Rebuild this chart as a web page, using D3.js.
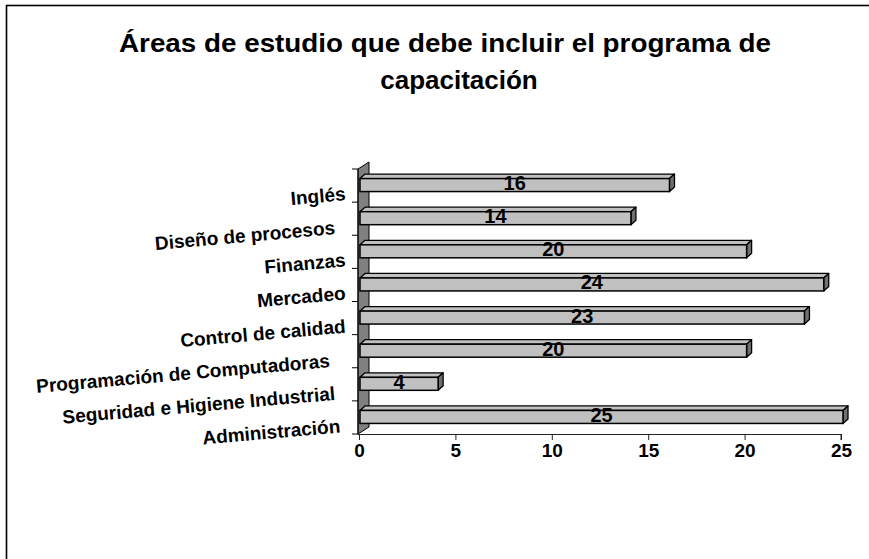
<!DOCTYPE html>
<html>
<head>
<meta charset="utf-8">
<script src="https://cdn.jsdelivr.net/npm/d3@7/dist/d3.min.js"></script>
<style>
  html, body { margin: 0; padding: 0; background: #fff; }
  svg { display: block; font-family: "Liberation Sans", Arial, sans-serif; }
  .cat { white-space: pre; }
</style>
</head>
<body>
<svg id="chart" width="869" height="559"></svg>
<script>
// ---- data ----
const titleLines = ["Áreas de estudio que debe incluir el programa de", "capacitación"];
const categories = ["Inglés", "Diseño de procesos  ", "Finanzas", "Mercadeo",
  "Control de calidad", "Programación de Computadoras   ",
  "Seguridad e Higiene Industrial  ", "Administración "];
const values = [16, 14, 20, 24, 23, 20, 4, 25];
const xTicks = [0, 5, 10, 15, 20, 25];

// ---- layout ----
const W = 869, H = 559;
const svg = d3.select("#chart");
const font = "'Liberation Sans', Arial, sans-serif";

// outer border (extends beyond the cropped picture on right/bottom)
svg.append("rect").attr("x", 6.5).attr("y", 5.5).attr("width", 1000).attr("height", 1000)
  .attr("fill", "none").attr("stroke", "#000").attr("stroke-width", 1.6);

// title
svg.append("text").attr("x", 445).attr("y", 52).attr("text-anchor", "middle")
  .attr("font-size", 26).attr("font-weight", "bold")
  .attr("textLength", 652).attr("lengthAdjust", "spacingAndGlyphs")
  .text(titleLines[0]);
svg.append("text").attr("x", 459).attr("y", 89).attr("text-anchor", "middle")
  .attr("font-size", 26).attr("font-weight", "bold")
  .text(titleLines[1]);

const x = d3.scaleLinear().domain([0, 25]).range([359, 841]);
const y = d3.scaleBand().domain(categories).range([169, 434]).padding(0);
const bw = y.bandwidth();

// 3D wall (left side)
const wdx = 11, wdy = -7;
const x0 = x(0) - 1, yTop = y.range()[0], yBot = y.range()[1];
svg.append("path")
  .attr("d", `M${x0},${yTop} L${x0 + wdx},${yTop + wdy} L${x0 + wdx},${yBot + wdy} L${x0},${yBot} Z`)
  .attr("fill", "#808080").attr("stroke", "#000").attr("stroke-width", 1);

// y axis (ticks at band boundaries)
const yAxisG = svg.append("g");
yAxisG.append("line").attr("x1", x0).attr("x2", x0).attr("y1", yTop).attr("y2", yBot)
  .attr("stroke", "#000").attr("stroke-width", 1);
const bounds = categories.map(c => y(c)).concat([yBot]);
yAxisG.selectAll("line.tk").data(bounds).join("line").attr("class", "tk")
  .attr("x1", x0 - 6).attr("x2", x0).attr("y1", d => d).attr("y2", d => d)
  .attr("stroke", "#000").attr("stroke-width", 1);

// category labels (rotated, anchored at bottom boundary of band)
svg.append("g").selectAll("text").data(categories).join("text")
  .attr("class", "cat")
  .attr("transform", c => `translate(346,${y(c) + bw - 2}) rotate(-5)`)
  .attr("text-anchor", "end")
  .attr("font-size", 19).attr("font-weight", "bold")
  .attr("fill", "#000")
  .text(c => c);

// x axis
const xAxis = d3.axisBottom(x).tickValues(xTicks).tickSize(6).tickPadding(3).tickFormat(d3.format("d"));
const xg = svg.append("g").attr("transform", `translate(0,${yBot})`).call(xAxis);
xg.select(".domain").attr("stroke", "#222").attr("d", `M${x0},0.5H${x(25)}V6`);
xg.selectAll(".tick line").attr("stroke", "#222");
xg.selectAll(".tick text").attr("font-size", 19).attr("font-weight", "bold")
  .attr("font-family", font).attr("fill", "#000").attr("dy", "0.72em");

// bars (3D)
const bh = 13, ddx = 5, ddy = -4.5;
const bars = svg.append("g").selectAll("g").data(categories).join("g");
bars.each(function (c, i) {
  const g = d3.select(this);
  const v = values[i];
  const left = x(0) + 1, right = x(v) + 2;
  const top = y(c) + bw / 2 - bh / 2 - 0.5, bot = top + bh;
  // top face
  g.append("path")
    .attr("d", `M${left},${top} L${left + ddx},${top + ddy} L${right + ddx},${top + ddy} L${right},${top} Z`)
    .attr("fill", "#c0c0c0").attr("stroke", "#000").attr("stroke-width", 1.3).attr("stroke-linejoin", "round");
  // end face
  g.append("path")
    .attr("d", `M${right},${top} L${right + ddx},${top + ddy} L${right + ddx},${bot + ddy} L${right},${bot} Z`)
    .attr("fill", "#707070").attr("stroke", "#000").attr("stroke-width", 1.3).attr("stroke-linejoin", "round");
  // front face
  g.append("rect").attr("x", left).attr("y", top).attr("width", right - left).attr("height", bh)
    .attr("fill", "#c0c0c0").attr("stroke", "#000").attr("stroke-width", 1.5);
  // value label
  g.append("text").attr("x", (left + right) / 2).attr("y", top + bh / 2 - 2)
    .attr("text-anchor", "middle").attr("dominant-baseline", "central")
    .attr("font-size", 20).attr("font-weight", "bold").attr("fill", "#000")
    .text(v);
});
</script>
</body>
</html>
